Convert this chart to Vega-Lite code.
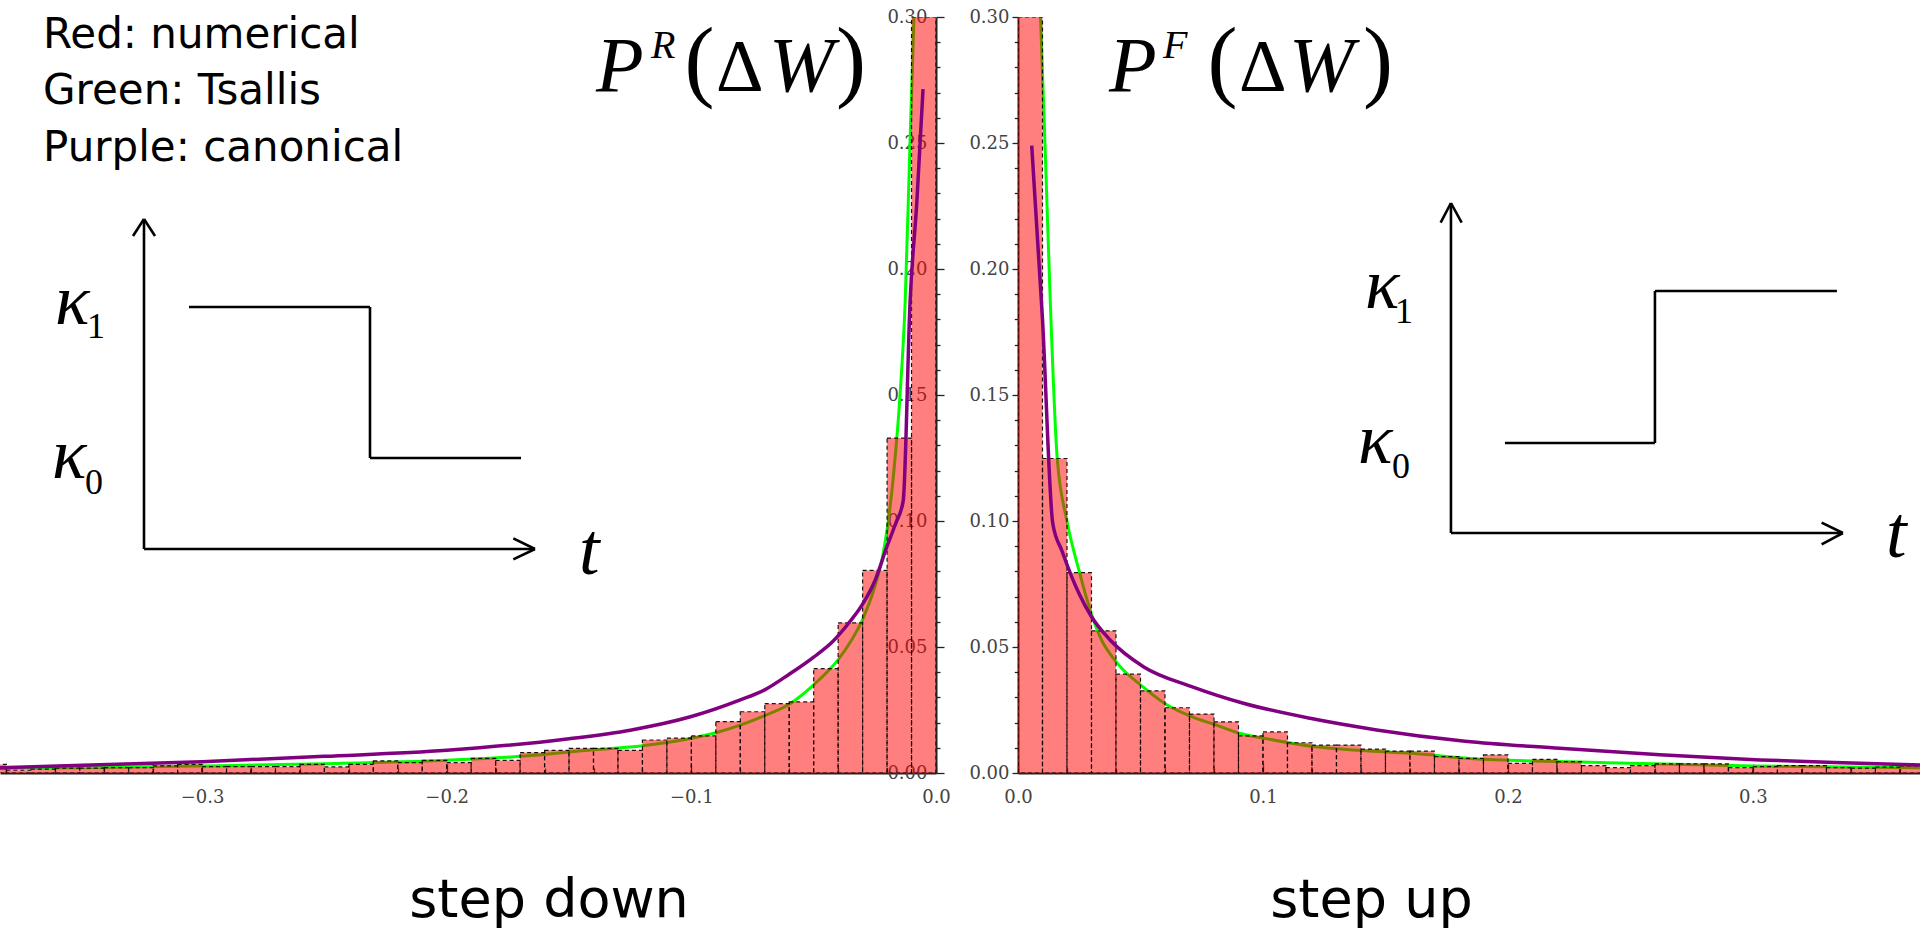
{
  "$schema": "https://vega.github.io/schema/vega-lite/v6.json",
  "padding": {"left": 0, "top": 8, "right": 0, "bottom": 8},
  "background": "white",
  "bounds": "flush",
  "spacing": 82,
  "config": {
    "view": {"stroke": null},
    "axis": {"grid": false, "labelFont": "DejaVu Serif", "labelFontSize": 18, "labelColor": "#444", "domainColor": "#222", "domainWidth": 2, "tickColor": "#222", "tickWidth": 1.3, "labelOverlap": false, "labelFlush": false, "title": null}
  },
  "datasets": {
    "barsL": [
      {"x": -0.39, "x2": -0.38, "y": 0.0034}, {"x": -0.38, "x2": -0.37, "y": 0.0011}, {"x": -0.37, "x2": -0.36, "y": 0.0015},
      {"x": -0.36, "x2": -0.35, "y": 0.0019}, {"x": -0.35, "x2": -0.34, "y": 0.0019}, {"x": -0.34, "x2": -0.33, "y": 0.0021},
      {"x": -0.33, "x2": -0.32, "y": 0.0021}, {"x": -0.32, "x2": -0.31, "y": 0.0028}, {"x": -0.31, "x2": -0.30, "y": 0.0034},
      {"x": -0.30, "x2": -0.29, "y": 0.0025}, {"x": -0.29, "x2": -0.28, "y": 0.0025}, {"x": -0.28, "x2": -0.27, "y": 0.0025},
      {"x": -0.27, "x2": -0.26, "y": 0.0025}, {"x": -0.26, "x2": -0.25, "y": 0.0034}, {"x": -0.25, "x2": -0.24, "y": 0.0024},
      {"x": -0.24, "x2": -0.23, "y": 0.0034}, {"x": -0.23, "x2": -0.22, "y": 0.0048}, {"x": -0.22, "x2": -0.21, "y": 0.0041},
      {"x": -0.21, "x2": -0.20, "y": 0.0050}, {"x": -0.20, "x2": -0.19, "y": 0.0041}, {"x": -0.19, "x2": -0.18, "y": 0.0058},
      {"x": -0.18, "x2": -0.17, "y": 0.0050}, {"x": -0.17, "x2": -0.16, "y": 0.0081}, {"x": -0.16, "x2": -0.15, "y": 0.0090},
      {"x": -0.15, "x2": -0.14, "y": 0.0098}, {"x": -0.14, "x2": -0.13, "y": 0.0098}, {"x": -0.13, "x2": -0.12, "y": 0.0090},
      {"x": -0.12, "x2": -0.11, "y": 0.0131}, {"x": -0.11, "x2": -0.10, "y": 0.0138}, {"x": -0.10, "x2": -0.09, "y": 0.0147},
      {"x": -0.09, "x2": -0.08, "y": 0.0204}, {"x": -0.08, "x2": -0.07, "y": 0.0243}, {"x": -0.07, "x2": -0.06, "y": 0.0275},
      {"x": -0.06, "x2": -0.05, "y": 0.0282}, {"x": -0.05, "x2": -0.04, "y": 0.0414}, {"x": -0.04, "x2": -0.03, "y": 0.0596},
      {"x": -0.03, "x2": -0.02, "y": 0.0804}, {"x": -0.02, "x2": -0.01, "y": 0.1329}, {"x": -0.01, "x2": 0.0, "y": 0.30}
    ],
    "barsR": [
      {"x": 0.00, "x2": 0.01, "y": 0.30}, {"x": 0.01, "x2": 0.02, "y": 0.1248}, {"x": 0.02, "x2": 0.03, "y": 0.0795},
      {"x": 0.03, "x2": 0.04, "y": 0.0564}, {"x": 0.04, "x2": 0.05, "y": 0.0392}, {"x": 0.05, "x2": 0.06, "y": 0.0326},
      {"x": 0.06, "x2": 0.07, "y": 0.0259}, {"x": 0.07, "x2": 0.08, "y": 0.0234}, {"x": 0.08, "x2": 0.09, "y": 0.0203},
      {"x": 0.09, "x2": 0.10, "y": 0.0147}, {"x": 0.10, "x2": 0.11, "y": 0.0163}, {"x": 0.11, "x2": 0.12, "y": 0.0120},
      {"x": 0.12, "x2": 0.13, "y": 0.0111}, {"x": 0.13, "x2": 0.14, "y": 0.0111}, {"x": 0.14, "x2": 0.15, "y": 0.0095},
      {"x": 0.15, "x2": 0.16, "y": 0.0087}, {"x": 0.16, "x2": 0.17, "y": 0.0087}, {"x": 0.17, "x2": 0.18, "y": 0.0065},
      {"x": 0.18, "x2": 0.19, "y": 0.0058}, {"x": 0.19, "x2": 0.20, "y": 0.0072}, {"x": 0.20, "x2": 0.21, "y": 0.0038},
      {"x": 0.21, "x2": 0.22, "y": 0.0054}, {"x": 0.22, "x2": 0.23, "y": 0.0045}, {"x": 0.23, "x2": 0.24, "y": 0.0029},
      {"x": 0.24, "x2": 0.25, "y": 0.0021}, {"x": 0.25, "x2": 0.26, "y": 0.0029}, {"x": 0.26, "x2": 0.27, "y": 0.0036},
      {"x": 0.27, "x2": 0.28, "y": 0.0036}, {"x": 0.28, "x2": 0.29, "y": 0.0036}, {"x": 0.29, "x2": 0.30, "y": 0.0021},
      {"x": 0.30, "x2": 0.31, "y": 0.0025}, {"x": 0.31, "x2": 0.32, "y": 0.0029}, {"x": 0.32, "x2": 0.33, "y": 0.0029},
      {"x": 0.33, "x2": 0.34, "y": 0.0021}, {"x": 0.34, "x2": 0.35, "y": 0.0019}, {"x": 0.35, "x2": 0.36, "y": 0.0023},
      {"x": 0.36, "x2": 0.37, "y": 0.0028}
    ],
    "tsL": [
      {"x": -0.3826, "y": 0.0018}, {"x": -0.35, "y": 0.0021}, {"x": -0.30, "y": 0.0028}, {"x": -0.25, "y": 0.0037},
      {"x": -0.20, "y": 0.0051}, {"x": -0.17, "y": 0.0066}, {"x": -0.14, "y": 0.0092}, {"x": -0.12, "y": 0.0108},
      {"x": -0.10, "y": 0.0138}, {"x": -0.09, "y": 0.0160}, {"x": -0.08, "y": 0.0190}, {"x": -0.07, "y": 0.0228},
      {"x": -0.06, "y": 0.0273}, {"x": -0.05, "y": 0.0350}, {"x": -0.04, "y": 0.0450}, {"x": -0.035, "y": 0.0520},
      {"x": -0.03, "y": 0.0610}, {"x": -0.025, "y": 0.0740}, {"x": -0.022, "y": 0.0850}, {"x": -0.0195, "y": 0.100},
      {"x": -0.0172, "y": 0.120}, {"x": -0.0147, "y": 0.150}, {"x": -0.0126, "y": 0.187}, {"x": -0.0106, "y": 0.251},
      {"x": -0.0090, "y": 0.300}
    ],
    "canL": [
      {"x": -0.3826, "y": 0.0021}, {"x": -0.30, "y": 0.0045}, {"x": -0.25, "y": 0.0066}, {"x": -0.20, "y": 0.0090},
      {"x": -0.15, "y": 0.0136}, {"x": -0.125, "y": 0.0170}, {"x": -0.10, "y": 0.0224}, {"x": -0.08, "y": 0.0290},
      {"x": -0.07, "y": 0.0330}, {"x": -0.06, "y": 0.0392}, {"x": -0.05, "y": 0.0460}, {"x": -0.042, "y": 0.0524},
      {"x": -0.035, "y": 0.0603}, {"x": -0.030, "y": 0.0670}, {"x": -0.025, "y": 0.0762}, {"x": -0.020, "y": 0.0900},
      {"x": -0.0165, "y": 0.0990}, {"x": -0.0134, "y": 0.1080}, {"x": -0.0106, "y": 0.1870}, {"x": -0.0078, "y": 0.2270},
      {"x": -0.0053, "y": 0.2714}
    ],
    "tsR": [
      {"x": 0.0092, "y": 0.300}, {"x": 0.0110, "y": 0.250}, {"x": 0.0130, "y": 0.192}, {"x": 0.0160, "y": 0.125},
      {"x": 0.0200, "y": 0.100}, {"x": 0.0250, "y": 0.080}, {"x": 0.0300, "y": 0.063}, {"x": 0.0335, "y": 0.054},
      {"x": 0.0405, "y": 0.0436}, {"x": 0.0509, "y": 0.0343}, {"x": 0.0609, "y": 0.0270}, {"x": 0.0709, "y": 0.0224},
      {"x": 0.0807, "y": 0.0191}, {"x": 0.0903, "y": 0.0158}, {"x": 0.1004, "y": 0.0138}, {"x": 0.1205, "y": 0.0105},
      {"x": 0.1403, "y": 0.0089}, {"x": 0.1607, "y": 0.0078}, {"x": 0.1845, "y": 0.0058}, {"x": 0.2403, "y": 0.0041},
      {"x": 0.3001, "y": 0.0028}, {"x": 0.3682, "y": 0.0021}
    ],
    "canR": [
      {"x": 0.0056, "y": 0.249}, {"x": 0.0100, "y": 0.180}, {"x": 0.0142, "y": 0.099}, {"x": 0.0180, "y": 0.088},
      {"x": 0.0250, "y": 0.071}, {"x": 0.0300, "y": 0.062}, {"x": 0.0376, "y": 0.0528}, {"x": 0.0512, "y": 0.0422},
      {"x": 0.0709, "y": 0.0343}, {"x": 0.0920, "y": 0.0277}, {"x": 0.1192, "y": 0.0217}, {"x": 0.1464, "y": 0.0171},
      {"x": 0.1825, "y": 0.0126}, {"x": 0.2212, "y": 0.0098}, {"x": 0.2620, "y": 0.0072}, {"x": 0.3029, "y": 0.0052},
      {"x": 0.3437, "y": 0.0039}, {"x": 0.3682, "y": 0.0032}
    ],
    "segL": [
      {"x": -0.32374, "y": 0.08889, "x2": -0.32374, "y2": 0.21984},
      {"x": -0.32823, "y": 0.21310, "x2": -0.32374, "y2": 0.21984},
      {"x": -0.31924, "y": 0.21310, "x2": -0.32374, "y2": 0.21984},
      {"x": -0.32374, "y": 0.08889, "x2": -0.16391, "y2": 0.08889},
      {"x": -0.17278, "y": 0.09313, "x2": -0.16391, "y2": 0.08889},
      {"x": -0.17278, "y": 0.08480, "x2": -0.16391, "y2": 0.08889},
      {"x": -0.30534, "y": 0.18492, "x2": -0.23136, "y2": 0.18492},
      {"x": -0.23136, "y": 0.18492, "x2": -0.23136, "y2": 0.12500},
      {"x": -0.23136, "y": 0.12500, "x2": -0.16963, "y2": 0.12500}
    ],
    "segR": [
      {"x": 0.17673, "y": 0.09524, "x2": 0.17673, "y2": 0.22619},
      {"x": 0.17253, "y": 0.21837, "x2": 0.17673, "y2": 0.22619},
      {"x": 0.18110, "y": 0.21837, "x2": 0.17673, "y2": 0.22619},
      {"x": 0.17673, "y": 0.09524, "x2": 0.33673, "y2": 0.09524},
      {"x": 0.32804, "y": 0.09933, "x2": 0.33673, "y2": 0.09524},
      {"x": 0.32804, "y": 0.09075, "x2": 0.33673, "y2": 0.09524},
      {"x": 0.19878, "y": 0.13095, "x2": 0.26000, "y2": 0.13095},
      {"x": 0.26000, "y": 0.13095, "x2": 0.26000, "y2": 0.19127},
      {"x": 0.26000, "y": 0.19127, "x2": 0.33429, "y2": 0.19127}
    ],
    "legendL": [
      {"x": -0.3650, "y": 0.2877, "text": "Red: numerical"},
      {"x": -0.3650, "y": 0.2655, "text": "Green: Tsallis"},
      {"x": -0.3650, "y": 0.2429, "text": "Purple: canonical"}
    ],
    "kappaL": [{"x": -0.36012, "y": 0.17817, "text": "κ"}, {"x": -0.36134, "y": 0.11706, "text": "κ"}],
    "subL": [{"x": -0.34704, "y": 0.17262, "text": "1"}, {"x": -0.34785, "y": 0.11071, "text": "0"}],
    "tL": [{"x": -0.14593, "y": 0.07897, "text": "t"}],
    "italL": [{"x": -0.13898, "y": 0.2706, "text": "P"}, {"x": -0.06826, "y": 0.2706, "text": "W"}],
    "deltaL": [{"x": -0.08992, "y": 0.2706, "text": "Δ"}],
    "supL": [{"x": -0.11649, "y": 0.2837, "text": "R"}],
    "parenL": [{"x": -0.1028, "y": 0.2710, "text": "("}, {"x": -0.04087, "y": 0.2710, "text": ")"}],
    "stepL": [{"x": -0.15819, "y": -0.05714, "text": "step down"}],
    "kappaR": [{"x": 0.14163, "y": 0.18452, "text": "κ"}, {"x": 0.13878, "y": 0.12302, "text": "κ"}],
    "subR": [{"x": 0.15388, "y": 0.17857, "text": "1"}, {"x": 0.15265, "y": 0.11706, "text": "0"}],
    "tR": [{"x": 0.35429, "y": 0.08571, "text": "t"}],
    "italR": [{"x": 0.03714, "y": 0.2706, "text": "P"}, {"x": 0.11061, "y": 0.2706, "text": "W"}],
    "deltaR": [{"x": 0.09020, "y": 0.2706, "text": "Δ"}],
    "supR": [{"x": 0.05918, "y": 0.2837, "text": "F"}],
    "parenR": [{"x": 0.07735, "y": 0.2710, "text": "("}, {"x": 0.14082, "y": 0.2710, "text": ")"}],
    "stepR": [{"x": 0.14429, "y": -0.05714, "text": "step up"}]
  },
  "hconcat": [
    {
      "width": 936,
      "height": 756,
      "encoding": {
        "x": {
          "field": "x", "type": "quantitative",
          "scale": {"domain": [-0.3826, 0], "nice": false, "zero": false},
          "axis": {
            "orient": "bottom",
            "values": [-0.38, -0.36, -0.34, -0.32, -0.3, -0.28, -0.26, -0.24, -0.22, -0.2, -0.18, -0.16, -0.14, -0.12, -0.1, -0.08, -0.06, -0.04, -0.02, 0],
            "labelExpr": "abs(datum.value*10 - round(datum.value*10)) < 0.001 ? format(datum.value, '.1f') : ''",
            "tickSize": {"condition": {"test": "abs(datum.value*10 - round(datum.value*10)) < 0.001", "value": -9}, "value": -5},
            "labelPadding": 24
          }
        },
        "y": {
          "field": "y", "type": "quantitative",
          "scale": {"domain": [0, 0.3], "nice": false, "zero": false},
          "axis": {
            "orient": "right",
            "values": [0, 0.01, 0.02, 0.03, 0.04, 0.05, 0.06, 0.07, 0.08, 0.09, 0.1, 0.11, 0.12, 0.13, 0.14, 0.15, 0.16, 0.17, 0.18, 0.19, 0.2, 0.21, 0.22, 0.23, 0.24, 0.25, 0.26, 0.27, 0.28, 0.29, 0.3],
            "labelExpr": "abs(datum.value*20 - round(datum.value*20)) < 0.001 ? format(datum.value, '.2f') : ''",
            "tickSize": {"condition": {"test": "abs(datum.value*20 - round(datum.value*20)) < 0.001", "value": 8}, "value": 4},
            "labelAlign": "right",
            "labelPadding": -17
          }
        }
      },
      "layer": [
        {"data": {"name": "tsL"}, "mark": {"type": "line", "color": "#00ff00", "strokeWidth": 3, "interpolate": "monotone", "clip": true}},
        {"data": {"name": "barsL"}, "mark": {"type": "rect", "fill": "#ff0000", "fillOpacity": 0.5, "stroke": "#000000", "strokeWidth": 1.2, "strokeDash": [4, 3], "strokeOpacity": 0.9, "clip": true},
         "encoding": {"x2": {"field": "x2"}, "y2": {"datum": 0}}},
        {"data": {"name": "canL"}, "mark": {"type": "line", "color": "#800080", "strokeWidth": 3.5, "interpolate": "monotone", "clip": true}},
        {"data": {"name": "segL"}, "mark": {"type": "rule", "color": "#000000", "strokeWidth": 2.6},
         "encoding": {"x2": {"field": "x2"}, "y2": {"field": "y2"}}},
        {"data": {"name": "legendL"}, "mark": {"type": "text", "font": "DejaVu Sans", "fontSize": 42, "align": "left", "baseline": "alphabetic", "color": "#000"}, "encoding": {"text": {"field": "text"}}},
        {"data": {"name": "kappaL"}, "mark": {"type": "text", "font": "Liberation Serif", "fontStyle": "italic", "fontSize": 72, "align": "left", "baseline": "alphabetic", "color": "#000"}, "encoding": {"text": {"field": "text"}}},
        {"data": {"name": "subL"}, "mark": {"type": "text", "font": "Liberation Serif", "fontSize": 36, "align": "left", "baseline": "alphabetic", "color": "#000"}, "encoding": {"text": {"field": "text"}}},
        {"data": {"name": "tL"}, "mark": {"type": "text", "font": "Liberation Serif", "fontStyle": "italic", "fontSize": 74, "align": "left", "baseline": "alphabetic", "color": "#000"}, "encoding": {"text": {"field": "text"}}},
        {"data": {"name": "italL"}, "mark": {"type": "text", "font": "Liberation Serif", "fontStyle": "italic", "fontSize": 78, "align": "left", "baseline": "alphabetic", "color": "#000"}, "encoding": {"text": {"field": "text"}}},
        {"data": {"name": "deltaL"}, "mark": {"type": "text", "font": "Liberation Serif", "fontSize": 74, "align": "left", "baseline": "alphabetic", "color": "#000"}, "encoding": {"text": {"field": "text"}}},
        {"data": {"name": "supL"}, "mark": {"type": "text", "font": "Liberation Serif", "fontStyle": "italic", "fontSize": 40, "align": "left", "baseline": "alphabetic", "color": "#000"}, "encoding": {"text": {"field": "text"}}},
        {"data": {"name": "parenL"}, "mark": {"type": "text", "font": "Liberation Serif", "fontSize": 90, "align": "left", "baseline": "alphabetic", "color": "#000"}, "encoding": {"text": {"field": "text"}}},
        {"data": {"name": "stepL"}, "mark": {"type": "text", "font": "DejaVu Sans", "fontSize": 54, "align": "center", "baseline": "alphabetic", "color": "#000"}, "encoding": {"text": {"field": "text"}}}
      ]
    },
    {
      "width": 902,
      "height": 756,
      "encoding": {
        "x": {
          "field": "x", "type": "quantitative",
          "scale": {"domain": [0, 0.3682], "nice": false, "zero": false},
          "axis": {
            "orient": "bottom",
            "values": [0, 0.02, 0.04, 0.06, 0.08, 0.1, 0.12, 0.14, 0.16, 0.18, 0.2, 0.22, 0.24, 0.26, 0.28, 0.3, 0.32, 0.34, 0.36],
            "labelExpr": "abs(datum.value*10 - round(datum.value*10)) < 0.001 ? format(datum.value, '.1f') : ''",
            "tickSize": {"condition": {"test": "abs(datum.value*10 - round(datum.value*10)) < 0.001", "value": -9}, "value": -5},
            "labelPadding": 24
          }
        },
        "y": {
          "field": "y", "type": "quantitative",
          "scale": {"domain": [0, 0.3], "nice": false, "zero": false},
          "axis": {
            "orient": "left",
            "values": [0, 0.01, 0.02, 0.03, 0.04, 0.05, 0.06, 0.07, 0.08, 0.09, 0.1, 0.11, 0.12, 0.13, 0.14, 0.15, 0.16, 0.17, 0.18, 0.19, 0.2, 0.21, 0.22, 0.23, 0.24, 0.25, 0.26, 0.27, 0.28, 0.29, 0.3],
            "labelExpr": "abs(datum.value*20 - round(datum.value*20)) < 0.001 ? format(datum.value, '.2f') : ''",
            "tickSize": {"condition": {"test": "abs(datum.value*20 - round(datum.value*20)) < 0.001", "value": 6}, "value": 3.7},
            "labelPadding": 3
          }
        }
      },
      "layer": [
        {"data": {"name": "tsR"}, "mark": {"type": "line", "color": "#00ff00", "strokeWidth": 3, "interpolate": "monotone", "clip": true}},
        {"data": {"name": "barsR"}, "mark": {"type": "rect", "fill": "#ff0000", "fillOpacity": 0.5, "stroke": "#000000", "strokeWidth": 1.2, "strokeDash": [4, 3], "strokeOpacity": 0.9, "clip": true},
         "encoding": {"x2": {"field": "x2"}, "y2": {"datum": 0}}},
        {"data": {"name": "canR"}, "mark": {"type": "line", "color": "#800080", "strokeWidth": 3.5, "interpolate": "monotone", "clip": true}},
        {"data": {"name": "segR"}, "mark": {"type": "rule", "color": "#000000", "strokeWidth": 2.6},
         "encoding": {"x2": {"field": "x2"}, "y2": {"field": "y2"}}},
        {"data": {"name": "kappaR"}, "mark": {"type": "text", "font": "Liberation Serif", "fontStyle": "italic", "fontSize": 72, "align": "left", "baseline": "alphabetic", "color": "#000"}, "encoding": {"text": {"field": "text"}}},
        {"data": {"name": "subR"}, "mark": {"type": "text", "font": "Liberation Serif", "fontSize": 36, "align": "left", "baseline": "alphabetic", "color": "#000"}, "encoding": {"text": {"field": "text"}}},
        {"data": {"name": "tR"}, "mark": {"type": "text", "font": "Liberation Serif", "fontStyle": "italic", "fontSize": 74, "align": "left", "baseline": "alphabetic", "color": "#000"}, "encoding": {"text": {"field": "text"}}},
        {"data": {"name": "italR"}, "mark": {"type": "text", "font": "Liberation Serif", "fontStyle": "italic", "fontSize": 78, "align": "left", "baseline": "alphabetic", "color": "#000"}, "encoding": {"text": {"field": "text"}}},
        {"data": {"name": "deltaR"}, "mark": {"type": "text", "font": "Liberation Serif", "fontSize": 74, "align": "left", "baseline": "alphabetic", "color": "#000"}, "encoding": {"text": {"field": "text"}}},
        {"data": {"name": "supR"}, "mark": {"type": "text", "font": "Liberation Serif", "fontStyle": "italic", "fontSize": 40, "align": "left", "baseline": "alphabetic", "color": "#000"}, "encoding": {"text": {"field": "text"}}},
        {"data": {"name": "parenR"}, "mark": {"type": "text", "font": "Liberation Serif", "fontSize": 90, "align": "left", "baseline": "alphabetic", "color": "#000"}, "encoding": {"text": {"field": "text"}}},
        {"data": {"name": "stepR"}, "mark": {"type": "text", "font": "DejaVu Sans", "fontSize": 54, "align": "center", "baseline": "alphabetic", "color": "#000"}, "encoding": {"text": {"field": "text"}}}
      ]
    }
  ]
}
